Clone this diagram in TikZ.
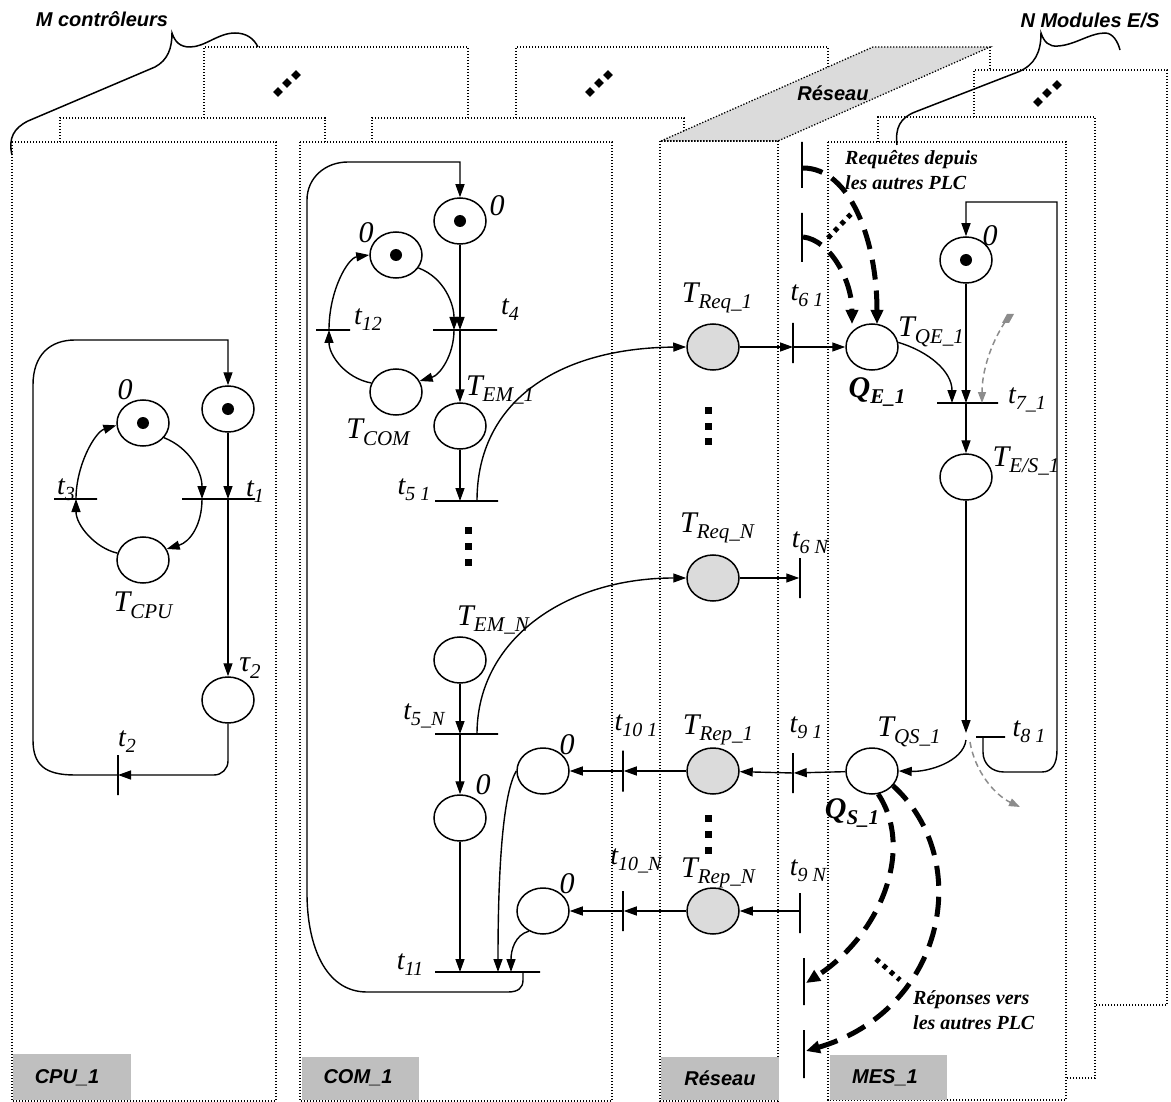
\documentclass[tikz,border=0pt]{standalone}
\usepackage{fontspec}
\setmainfont{Liberation Serif}
\newfontfamily\arialf{Liberation Sans}
\usetikzlibrary{arrows.meta,shapes.geometric}
\newcommand\psub[1]{\raisebox{-0.22em}{\fontsize{21pt}{21pt}\selectfont #1}}
\newcommand\tsub[1]{\raisebox{-0.22em}{\fontsize{20pt}{20pt}\selectfont #1}}
\tikzset{
 pl/.style={ellipse, draw, line width=1.5pt, minimum width=52pt, minimum height=46pt, inner sep=0pt, fill=white},
 gpl/.style={pl, fill=black!14},
 tok/.style={circle, fill=black, minimum size=12pt, inner sep=0pt},
 hbar/.style={rectangle, draw, line width=1.5pt, minimum height=0pt, inner sep=0pt},
 vbar/.style={rectangle, draw, line width=1.5pt, minimum width=0pt, inner sep=0pt},
 flow/.style={line width=1.4pt, -{Triangle[length=13pt,width=9pt]}},
 fr/.style={line width=1.3pt, dash pattern=on 1.3pt off 1.7pt},
 plab/.style={font=\fontsize{30pt}{30pt}\selectfont\itshape, inner sep=0pt},
 tlab/.style={font=\fontsize{28pt}{28pt}\selectfont\itshape, inner sep=0pt},
 qlab/.style={font=\fontsize{30pt}{30pt}\selectfont\bfseries\itshape, inner sep=0pt},
 slab/.style={font=\arialf\fontsize{20pt}{22pt}\selectfont\bfseries\itshape, inner sep=0pt},
 note/.style={font=\fontsize{20pt}{25pt}\selectfont\bfseries\itshape, inner sep=0pt, align=left},
 lbox/.style={fill=black!25},
 bigdash/.style={line width=5pt, dash pattern=on 20pt off 11pt, -{Triangle[length=14pt,width=12pt]}},
 bigdot/.style={line width=5pt, dash pattern=on 4.5pt off 5pt},
 gdash/.style={draw=black!45, line width=1.5pt, dash pattern=on 6pt off 4pt, -{Triangle[length=11pt,width=8pt]}},
 dia/.style={diamond, fill=black, minimum size=10pt, inner sep=0pt},
 sq/.style={rectangle, fill=black, minimum size=7pt, inner sep=0pt},
 brace/.style={line width=1.5pt},
}
\begin{document}
\begin{tikzpicture}[x=1pt,y=-1pt]
\useasboundingbox (0,0) rectangle (1171,1102);

% ---------- back frames ----------
\draw[fr] (204,118) -- (204,47) -- (468,47) -- (468,118);
\draw[fr] (516,118) -- (516,47) -- (828,47) -- (828,67);
\draw[fr] (60,142) -- (60,118) -- (325,118) -- (325,142);
\draw[fr] (372,142) -- (372,118) -- (684,118) -- (684,131);
% network box
\draw[fr, fill=black!14] (661,141) -- (873,47) -- (990,47) -- (778,141) -- cycle;
\draw[fr] (990,47) -- (990,70);
\draw[fr] (660,141) rectangle (778,1101);
% front frames
\draw[fr] (12,142) rectangle (276,1101);
\draw[fr] (300,142) rectangle (612,1101);
% MES frames
\draw[fr] (974,117) -- (974,70) -- (1167,70) -- (1167,1005) -- (1095,1005);
\draw[fr] (878,142) -- (878,117) -- (1095,117) -- (1095,1078) -- (1066,1078);
\draw[fr] (828,142) rectangle (1066,1100);

% ellipsis diamonds
\node[dia] (d1) at (278,92) {}; \node[dia] (d2) at (287,83) {}; \node[dia] (d3) at (296,75) {};
\node[dia] (d4) at (590,92) {}; \node[dia] (d5) at (599,83) {}; \node[dia] (d6) at (608,75) {};
\node[dia] (d7) at (1038,102) {}; \node[dia] (d8) at (1047,93) {}; \node[dia] (d9) at (1057,85) {};

% braces and titles
\draw[brace] (12,155) .. controls (8,138) and (14,128) .. (28,121) -- (155,67) .. controls (168,60) and (172,48) .. (172,33) .. controls (175,42) and (180,47) .. (190,47) .. controls (205,47) and (218,33) .. (235,33) .. controls (247,33) and (254,39) .. (258,47);
\draw[brace] (897,145) .. controls (895,128) and (900,118) .. (915,112) -- (1018,72) .. controls (1035,65) and (1041,52) .. (1041,33) .. controls (1044,42) and (1049,47) .. (1058,46) .. controls (1075,45) and (1090,33) .. (1105,33) .. controls (1113,33) and (1118,42) .. (1120,50);
\node[slab] (mctl) at (102,19) {M contrôleurs};
\node[slab] (nmod) at (1090,20) {N Modules E/S};
\node[slab] (resT) at (833,93) {Réseau};

% bottom labels
\fill[lbox] (13,1054) rectangle (131,1100);
\fill[lbox] (302,1057) rectangle (419,1100);
\fill[lbox] (661,1057) rectangle (779,1100);
\fill[lbox] (830,1055) rectangle (947,1100);
\node[slab] (bcpu) at (67,1078) {CPU\_1};
\node[slab] (bcom) at (358,1078) {COM\_1};
\node[slab] (bres) at (720,1078) {Réseau};
\node[slab] (bmes) at (885,1078) {MES\_1};

% ================= CPU =================
\node[pl] (cP0) at (143,423) {}; \node[tok] (cP0k) at (cP0) {};
\node[pl] (cPt) at (228,409) {}; \node[tok] (cPtk) at (cPt) {};
\node[pl] (cTcpu) at (143,560) {};
\node[pl] (cTau) at (228,700) {};
\node[hbar, minimum width=73pt] (ct1) at (218.5,499) {};
\node[hbar, minimum width=43pt] (ct3) at (75.5,499) {};
\node[vbar, minimum height=40pt] (ct2) at (118,775) {};
\coordinate (ct1a) at (202,499);
\coordinate (ct1b) at (228,499);
\coordinate (ct3a) at (76,499);

\draw[flow] (cP0.-35) .. controls (190,448) and (202,472) .. (ct1a);
\draw[flow] (ct1a) .. controls (202,525) and (190,542) .. (cTcpu.25);
\draw[flow] (cTcpu.165) .. controls (95,548) and (76,525) .. (ct3a);
\draw[flow] (ct3a) .. controls (76,465) and (95,432) .. (cP0.185);
\draw[flow] (cPt) -- (ct1b);
\draw[flow] (ct1b) -- (cTau);
\draw[flow, rounded corners=14pt] (cTau.south) |- (ct2.center);
\draw[flow] (ct2.center) -- (75,775) .. controls (45,775) and (33,765) .. (33,740) -- (33,385) .. controls (33,355) and (50,340) .. (75,340) -- (228,340) -- (cPt.north);

\node[plab] (lc0) at (125,390) {0};
\node[plab] (lcpu) at (143,605) {T\psub{CPU}};
\node[tlab] (lt1) at (255,492) {t\tsub{1}};
\node[tlab] (lt3) at (66,490) {t\tsub{3}};
\node[plab] (ltau) at (250,668) {τ\psub{2}};
\node[tlab] (lt2) at (127,742) {t\tsub{2}};

% ================= COM =================
\node[pl] (mP1) at (460,221) {}; \node[tok] (mP1k) at (mP1) {};
\node[pl] (mP0) at (396,255) {}; \node[tok] (mP0k) at (mP0) {};
\node[pl] (mTcom) at (396,392) {};
\node[pl] (mTem1) at (460,426) {};
\node[pl] (mTemN) at (460,660) {};
\node[pl] (mPA) at (460,818) {};
\node[pl] (mPB) at (543,771) {};
\node[pl] (mPC) at (543,911) {};
\node[hbar, minimum width=34pt] (mt12) at (333,330) {};
\node[hbar, minimum width=64pt] (mt4) at (465,330) {};
\node[hbar, minimum width=63pt] (mt51) at (466.5,501) {};
\node[hbar, minimum width=63pt] (mt5N) at (466.5,734) {};
\node[hbar, minimum width=105pt] (mt11) at (487.5,972) {};
\node[vbar, minimum height=41pt] (mt101) at (623,771) {};
\node[vbar, minimum height=40pt] (mt10N) at (623,911) {};
\coordinate (m4a) at (454,330);
\coordinate (m4b) at (460,330);
\coordinate (m12a) at (329,330);
\coordinate (m51a) at (460,501);
\coordinate (m51b) at (477,501);
\coordinate (m5Na) at (460,734);
\coordinate (m5Nb) at (477,734);
\coordinate (m11a) at (460,972);
\coordinate (m11b) at (498,972);
\coordinate (m11c) at (511,972);
\coordinate (m11d) at (523,972);

\draw[flow] (mP0.-30) .. controls (445,278) and (454,305) .. (m4a);
\draw[flow] (m4a) .. controls (454,355) and (440,375) .. (mTcom.25);
\draw[flow] (mTcom.160) .. controls (345,378) and (329,355) .. (m12a);
\draw[flow] (m12a) .. controls (329,290) and (348,258) .. (mP0.180);
\draw[flow] (mP1) -- (m4b);
\draw[flow] (m4b) -- (mTem1);
\draw[flow] (m11d) -- (523,980) .. controls (523,988) and (518,992) .. (508,992) -- (367,992) .. controls (325,992) and (307,945) .. (307,893) -- (307,200) .. controls (307,178) and (325,162) .. (348,162) -- (460,162) -- (mP1.north);
\draw[flow] (mTem1) -- (m51a);
\draw[flow] (mTemN) -- (m5Na);
\draw[flow] (m5Na) -- (mPA);
\draw[flow] (mPA) -- (m11a);
\draw[flow] (mPB.west) .. controls (505,790) and (498,850) .. (m11b);
\draw[flow] (mPC.235) .. controls (515,935) and (511,950) .. (m11c);

\node[sq] (sq1) at (468,530) {}; \node[sq] (sq2) at (468,546) {}; \node[sq] (sq3) at (468,562) {};

\node[plab] (lm1) at (497,206) {0};
\node[plab] (lm0) at (366,233) {0};
\node[tlab] (lt12) at (368,320) {t\tsub{12}};
\node[tlab] (lt4) at (510,310) {t\tsub{4}};
\node[plab] (lcom) at (378,432) {T\psub{COM}};
\node[plab] (lem1) at (500,390) {T\psub{EM\_1}};
\node[tlab] (lt51) at (414,490) {t\tsub{5 1}};
\node[plab] (lemN) at (493,620) {T\psub{EM\_N}};
\node[tlab] (lt5N) at (424,716) {t\tsub{5\_N}};
\node[plab] (lpa) at (483,785) {0};
\node[plab] (lpb) at (567,745) {0};
\node[plab] (lpc) at (567,884) {0};
\node[tlab] (lt11) at (410,965) {t\tsub{11}};
\node[tlab] (lt101) at (636,726) {t\tsub{10 1}};
\node[tlab] (lt10N) at (636,861) {t\tsub{10\_N}};

% ================= Network =================
\node[gpl] (nReq1) at (713,347) {};
\node[gpl] (nReqN) at (713,578) {};
\node[gpl] (nRep1) at (713,771) {};
\node[gpl] (nRepN) at (713,911) {};
\node[vbar, minimum height=40pt] (nt61) at (793,343) {};
\node[vbar, minimum height=40pt] (nt6N) at (800,578) {};
\node[vbar, minimum height=40pt] (nt91) at (793,773) {};
\node[vbar, minimum height=40pt] (nt9N) at (800,913) {};

\draw[flow] (m51b) .. controls (477,400) and (560,348) .. (nReq1.west);
\draw[flow] (m5Nb) .. controls (477,640) and (565,578) .. (nReqN.west);
\draw[flow] (nReq1.east) -- (nReq1.east -| nt61.center);
\draw[flow] (nReqN) -- (nt6N);
\draw[flow] (nt91) -- (nRep1);
\draw[flow] (nRep1) -- (mt101);
\draw[flow] (mt101) -- (mPB);
\draw[flow] (nt9N.center |- nRepN.east) -- (nRepN);
\draw[flow] (nRepN) -- (mt10N);
\draw[flow] (mt10N) -- (mPC);

\node[sq] (sq4) at (708,410) {}; \node[sq] (sq5) at (708,426) {}; \node[sq] (sq6) at (708,441) {};
\node[sq] (sq7) at (708,818) {}; \node[sq] (sq8) at (708,834) {}; \node[sq] (sq9) at (708,850) {};

\node[plab] (lreq1) at (717,298) {T\psub{Req\_1}};
\node[tlab] (lt61) at (807,296) {t\tsub{6 1}};
\node[plab] (lreqN) at (717,528) {T\psub{Req\_N}};
\node[tlab] (lt6N) at (810,543) {t\tsub{6 N}};
\node[plab] (lrep1) at (718,730) {T\psub{Rep\_1}};
\node[tlab] (lt91) at (806,728) {t\tsub{9 1}};
\node[plab] (lrepN) at (718,873) {T\psub{Rep\_N}};
\node[tlab] (lt9N) at (808,871) {t\tsub{9 N}};

% ================= MES =================
\node[pl] (sQE) at (872,347) {};
\node[pl] (sTop) at (966,260) {}; \node[tok] (sTopk) at (sTop) {};
\node[pl] (sTes) at (966,477) {};
\node[pl] (sQS) at (872,771) {};
\node[hbar, minimum width=61pt] (st71) at (967.5,403) {};
\node[hbar, minimum width=29pt] (st81) at (990.5,737) {};
\coordinate (s7a) at (952,403);
\coordinate (s7b) at (966,403);
\coordinate (s7c) at (982,403);
\coordinate (s8in) at (966,733);
\coordinate (s8out) at (966,740);
\coordinate (s8loop) at (983,737);
\coordinate (g2s) at (970,742);
\coordinate (g2e) at (1020,807);
\coordinate (g1s) at (1005,322);

\draw[flow] (nReq1.east -| nt61.center) -- (sQE.west);
\draw[flow] (sQS) -- (nt91);
\draw[flow] (sQE.10) .. controls (930,352) and (952,372) .. (s7a);
\draw[flow] (sTop) -- (s7b);
\draw[flow] (s7b) -- (sTes);
\draw[flow] (sTes) -- (s8in);
\draw[flow] (s8out) .. controls (963,762) and (928,772) .. (sQS.east);
\draw[flow] (s8loop) -- (983,752) .. controls (983,764) and (992,772) .. (1004,772) -- (1042,772) .. controls (1052,772) and (1057,764) .. (1057,750) -- (1057,202) -- (966,202) -- (sTop.north);
\fill[black!45] (1002,323) -- (1007,314) -- (1014,314) -- (1009,323) -- cycle;
\draw[gdash] (g1s) .. controls (990,345) and (982,372) .. (s7c);
\draw[gdash] (g2s) .. controls (975,772) and (995,795) .. (g2e);

% requests
\node[vbar, minimum height=46pt] (rB1) at (802,165) {};
\node[vbar, minimum height=49pt] (rB2) at (802,237.5) {};
\coordinate (rB1a) at (803,168);
\coordinate (rB2a) at (803,237);
\coordinate (qEin1) at (852,324);
\coordinate (qEin2) at (877,324);
\draw[bigdash] (rB1a) .. controls (850,168) and (877,240) .. (qEin2);
\draw[bigdash] (rB2a) .. controls (830,240) and (852,280) .. (qEin1);
\draw[bigdot] (828,238) -- (852,213);
\node[note, anchor=north west] (req) at (845,150) {Requêtes depuis\\les autres PLC};

% responses
\node[vbar, minimum height=47pt] (qB1) at (804,981.5) {};
\node[vbar, minimum height=48pt] (qB2) at (804,1054) {};
\coordinate (qB1a) at (806,983);
\coordinate (qB2a) at (806,1051);
\draw[bigdash] (sQS.-75) .. controls (915,850) and (880,935) .. (qB1a);
\draw[bigdash] (sQS.-35) .. controls (975,860) and (945,1010) .. (qB2a);
\draw[bigdot] (876,959) -- (900,980);
\node[note, anchor=north west] (rep) at (913,990) {Réponses vers\\les autres PLC};

\node[plab] (ltop) at (990,236) {0};
\node[plab] (lqe) at (931,332) {T\psub{QE\_1}};
\node[qlab] (lQE) at (877,392) {Q\psub{E\_1}};
\node[tlab] (lt71) at (1027,400) {t\tsub{7\_1}};
\node[plab] (les) at (1026,461) {T\psub{E/S\_1}};
\node[plab] (lqs) at (909,732) {T\psub{QS\_1}};
\node[tlab] (lt81) at (1029,732) {t\tsub{8 1}};
\node[qlab] (lQS) at (852,813) {Q\psub{S\_1}};
\end{tikzpicture}
\end{document}
